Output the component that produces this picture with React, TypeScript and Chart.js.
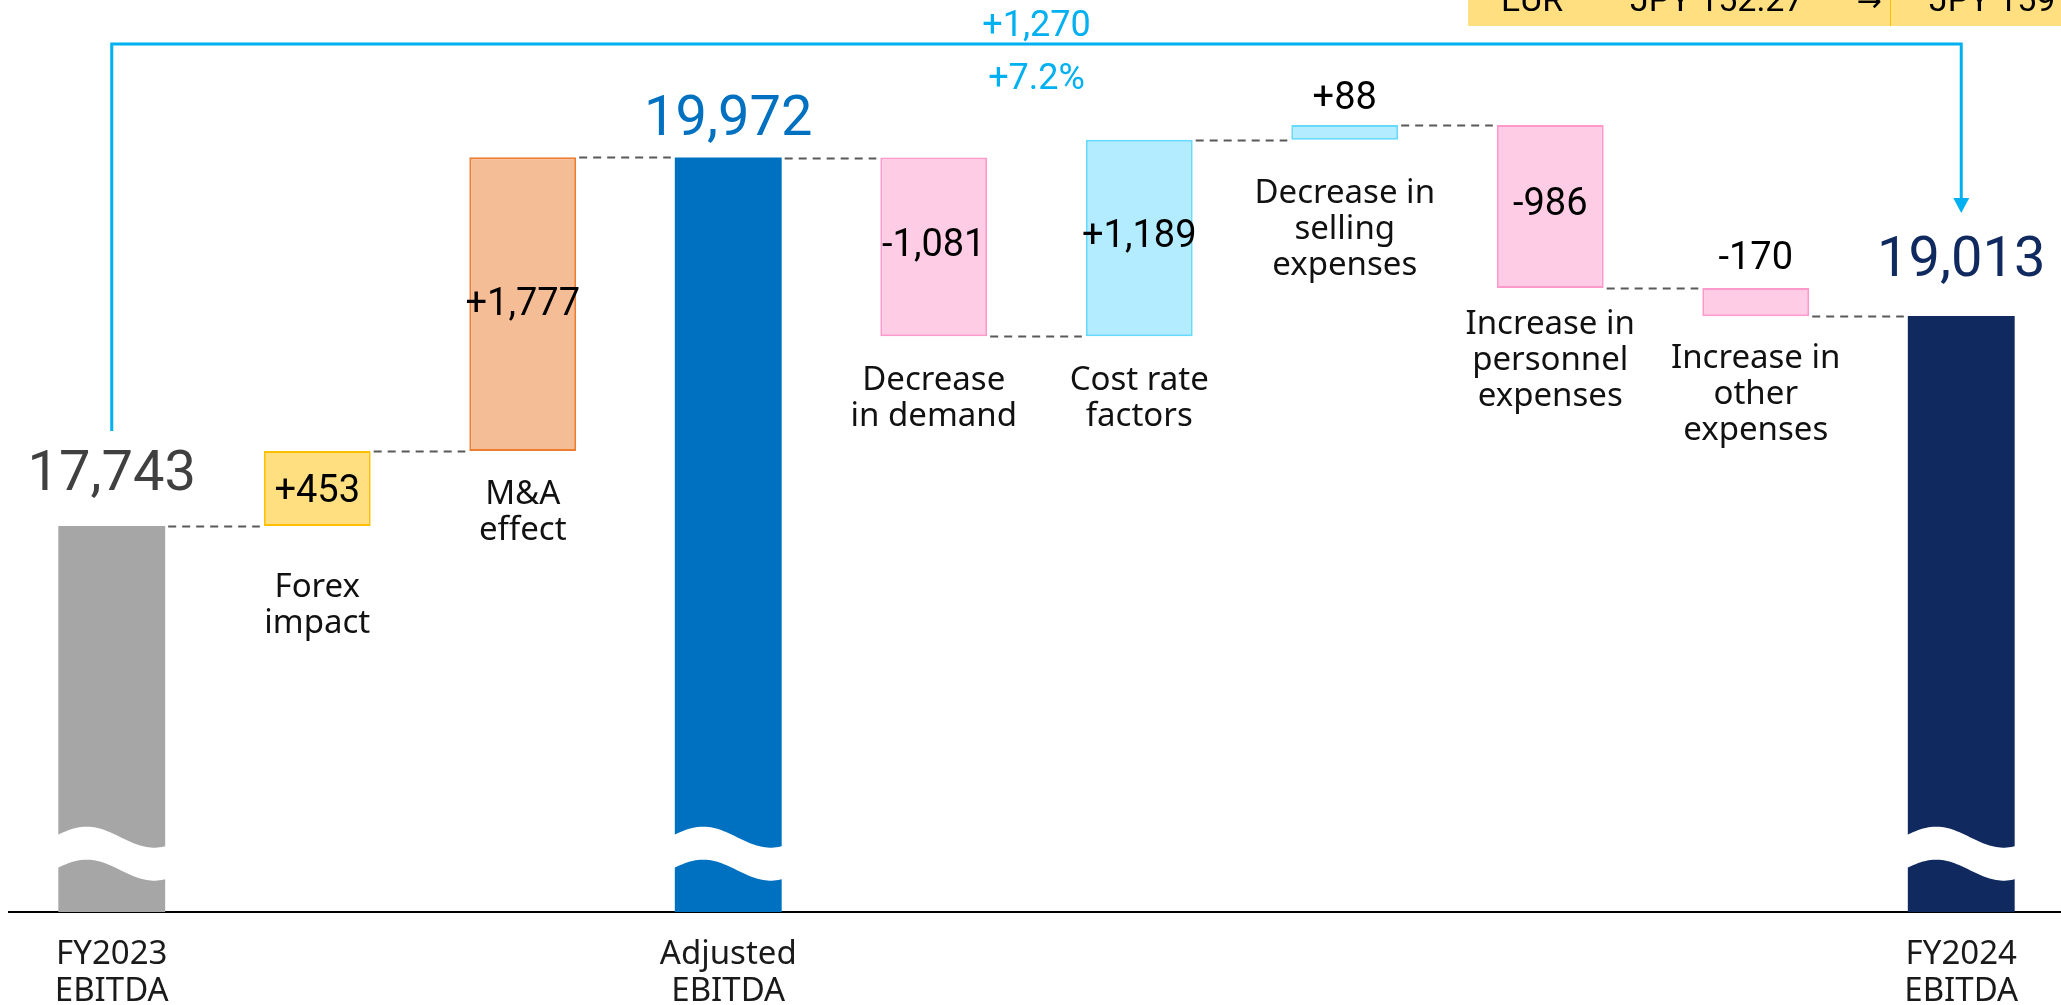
import React, { useEffect, useRef } from 'react';
import { Chart, registerables } from 'chart.js';

Chart.register(...registerables);

// ---------- data ----------
const categories = [
  'FY2023 EBITDA',
  'Forex impact',
  'M&A effect',
  'Adjusted EBITDA',
  'Decrease in demand',
  'Cost rate factors',
  'Decrease in selling expenses',
  'Increase in personnel expenses',
  'Increase in other expenses',
  'FY2024 EBITDA',
];
const axisLabels: string[][] = [
  ['FY2023', 'EBITDA'], [], [], ['Adjusted', 'EBITDA'], [], [], [], [], [], ['FY2024', 'EBITDA'],
];
const stepLabels: string[][] = [
  [], ['Forex', 'impact'], ['M&A', 'effect'], [], ['Decrease', 'in demand'], ['Cost rate', 'factors'],
  ['Decrease in', 'selling', 'expenses'], ['Increase in', 'personnel', 'expenses'], ['Increase in', 'other', 'expenses'], [],
];
const values = [17743, 453, 1777, 19972, -1081, 1189, 88, -986, -170, 19013];
const isTotal = [true, false, false, true, false, false, false, false, false, true];
const valueLabels = ['17,743', '+453', '+1,777', '19,972', '-1,081', '+1,189', '+88', '-986', '-170', '19,013'];
const changeLabels = ['+1,270', '+7.2%'];
const forexRow = ['EUR', 'JPY 152.27', '→', 'JPY 159'];

const AXIS_MIN = 15407;
const AXIS_MAX = 20925;
const BREAK_VALUE = 15760;

// ---------- styles ----------
const fills = ['#a6a6a6', '#ffdf80', '#f4bd96', '#0070c0', '#ffcce5', '#b3ebff', '#b3ebff', '#ffcce5', '#ffcce5', '#10295e'];
const borders = ['#a6a6a6', '#ffc000', '#ed7d31', '#0070c0', '#ff99cc', '#66d9ff', '#66d9ff', '#ff99cc', '#ff99cc', '#10295e'];
const valueColors = ['#404040', '#000', '#000', '#0070c0', '#000', '#000', '#000', '#000', '#000', '#10295e'];
const valuePos = ['above', 'inside', 'inside', 'above', 'inside', 'inside', 'above', 'inside', 'above', 'above'];
const valueOff = [36, 0, -3, 22.5, -4.5, -4.5, 16, -5, 19, 40.5];
const stepOff = [0, 71, 53, 0, 54, 54, 63, 45.5, 51.5, 0];

const NUM_FONT = 'Roboto, "Noto Sans", sans-serif';
const TXT_FONT = '"Noto Sans", "DejaVu Sans", sans-serif';

// compute floating ranges
const ranges: [number, number][] = [];
const levels: number[] = [];
{
  let run = 0;
  values.forEach((v, i) => {
    if (isTotal[i]) {
      ranges.push([AXIS_MIN, v]);
      run = v;
    } else {
      ranges.push([run, run + v]);
      run += v;
    }
    levels.push(run);
  });
}

const overlay = {
  id: 'overlay',
  afterDatasetsDraw(chart: any) {
    const ctx: CanvasRenderingContext2D = chart.ctx;
    const ys = chart.scales.y;
    const meta = chart.getDatasetMeta(0);
    const bars = meta.data.map((el: any) => {
      const p = el.getProps(['x', 'y', 'base', 'width'], true);
      return {
        x: p.x,
        left: p.x - p.width / 2,
        right: p.x + p.width / 2,
        top: Math.min(p.y, p.base),
        bottom: Math.max(p.y, p.base),
      };
    });
    ctx.save();

    // axis break waves on total bars
    const yc = ys.getPixelForValue(BREAK_VALUE);
    ctx.fillStyle = '#ffffff';
    bars.forEach((b: any, i: number) => {
      if (!isTotal[i]) return;
      const w = b.right - b.left + 2;
      const N = 50;
      ctx.beginPath();
      for (let k = 0; k <= N; k++) {
        const t = k / N;
        const phi = (2 * Math.PI * (t - 0.27)) / 1.24;
        const x = b.left - 1 + t * w;
        const y = yc - 16.5 - 10.5 * Math.cos(phi);
        if (k === 0) ctx.moveTo(x, y);
        else ctx.lineTo(x, y);
      }
      for (let k = N; k >= 0; k--) {
        const t = k / N;
        const phi = (2 * Math.PI * (t - 0.27)) / 1.24;
        const x = b.left - 1 + t * w;
        const y = yc + 16.5 - 10.5 * Math.cos(phi);
        ctx.lineTo(x, y);
      }
      ctx.closePath();
      ctx.fill();
    });

    // dashed connectors
    ctx.strokeStyle = '#595959';
    ctx.lineWidth = 2;
    ctx.setLineDash([8, 6]);
    for (let i = 0; i < bars.length - 1; i++) {
      const y = Math.round(ys.getPixelForValue(levels[i])) + 0.5;
      ctx.beginPath();
      ctx.moveTo(bars[i].right + 3, y);
      ctx.lineTo(bars[i + 1].left - 4, y);
      ctx.stroke();
    }
    ctx.setLineDash([]);

    // value labels
    ctx.textAlign = 'center';
    ctx.textBaseline = 'alphabetic';
    bars.forEach((b: any, i: number) => {
      const big = isTotal[i];
      const size = big ? 56 : 38;
      const cap = size * 0.711;
      ctx.font = `${size}px ${NUM_FONT}`;
      ctx.fillStyle = valueColors[i];
      let baseline: number;
      if (valuePos[i] === 'above') baseline = b.top - valueOff[i];
      else baseline = (b.top + b.bottom) / 2 + valueOff[i] + cap / 2;
      ctx.fillText(valueLabels[i], b.x, baseline);
    });

    // step labels
    ctx.font = `33px ${TXT_FONT}`;
    ctx.fillStyle = '#111';
    bars.forEach((b: any, i: number) => {
      stepLabels[i].forEach((line, j) => {
        ctx.fillText(line, b.x, b.bottom + stepOff[i] + j * 36);
      });
    });

    // cyan bracket
    const xL = bars[0].x;
    const xR = bars[bars.length - 1].x;
    const yLine = 44;
    const yLeftEnd = bars[0].top - 95;
    const tip = bars[bars.length - 1].top - 103;
    ctx.strokeStyle = '#00b0f0';
    ctx.fillStyle = '#00b0f0';
    ctx.lineWidth = 3;
    ctx.beginPath();
    ctx.moveTo(xL, yLeftEnd);
    ctx.lineTo(xL, yLine);
    ctx.lineTo(xR, yLine);
    ctx.lineTo(xR, tip - 14);
    ctx.stroke();
    ctx.beginPath();
    ctx.moveTo(xR - 8, tip - 15);
    ctx.lineTo(xR + 8, tip - 15);
    ctx.lineTo(xR, tip);
    ctx.closePath();
    ctx.fill();
    const xm = (xL + xR) / 2;
    ctx.font = `36px ${NUM_FONT}`;
    ctx.fillText(changeLabels[0], xm, 35.5);
    ctx.fillText(changeLabels[1], xm, 89);

    // partially visible forex table at top-right
    ctx.fillStyle = '#ffdf80';
    ctx.fillRect(1468, 0, 700, 26);
    ctx.strokeStyle = '#ffc000';
    ctx.lineWidth = 1;
    ctx.beginPath();
    ctx.moveTo(1890.5, 0);
    ctx.lineTo(1890.5, 26);
    ctx.stroke();
    ctx.fillStyle = '#000';
    ctx.font = `34px ${NUM_FONT}`;
    ctx.textAlign = 'left';
    ctx.fillText(forexRow[0], 1501, 11);
    ctx.fillText(forexRow[1], 1630, 11);
    ctx.textAlign = 'center';
    ctx.font = `30px "DejaVu Sans", sans-serif`;
    ctx.fillText(forexRow[2], 1869, 11);
    ctx.textAlign = 'left';
    ctx.font = `34px ${NUM_FONT}`;
    ctx.fillText(forexRow[3], 1929, 11);

    ctx.restore();
  },
};

export default function App() {
  const ref = useRef<HTMLCanvasElement | null>(null);
  useEffect(() => {
    if (!ref.current) return;
    const chart = new Chart(ref.current, {
      type: 'bar',
      data: {
        labels: categories,
        datasets: [
          {
            data: ranges as any,
            backgroundColor: fills,
            borderColor: borders,
            borderWidth: isTotal.map((t) => (t ? 0 : 2)),
            borderSkipped: false,
            barPercentage: 0.52,
            categoryPercentage: 1,
          },
        ],
      },
      options: {
        animation: false,
        responsive: true,
        maintainAspectRatio: false,
        layout: { padding: { left: 9, right: 2, top: 0, bottom: 0 } },
        plugins: { legend: { display: false }, tooltip: { enabled: false }, title: { display: false } },
        scales: {
          x: {
            offset: true,
            grid: { display: false, drawTicks: false },
            border: { display: true, color: '#000', width: 2 },
            ticks: {
              autoSkip: false,
              maxRotation: 0,
              padding: 24,
              color: '#1a1a1a',
              font: { family: TXT_FONT, size: 33, lineHeight: 1.12 },
              callback: (_v: any, i: number) => axisLabels[i],
            },
            afterFit: (scale: any) => {
              scale.height = 93;
            },
          },
          y: {
            display: false,
            min: AXIS_MIN,
            max: AXIS_MAX,
          },
        },
      },
      plugins: [overlay],
    });
    return () => chart.destroy();
  }, []);

  return (
    <div style={{ position: 'fixed', left: 0, top: 0, width: 2061, height: 1005, overflow: 'hidden', background: '#fff' }}>
      <div style={{ position: 'relative', width: 2066, height: 1005 }}>
        <canvas ref={ref} />
      </div>
    </div>
  );
}
